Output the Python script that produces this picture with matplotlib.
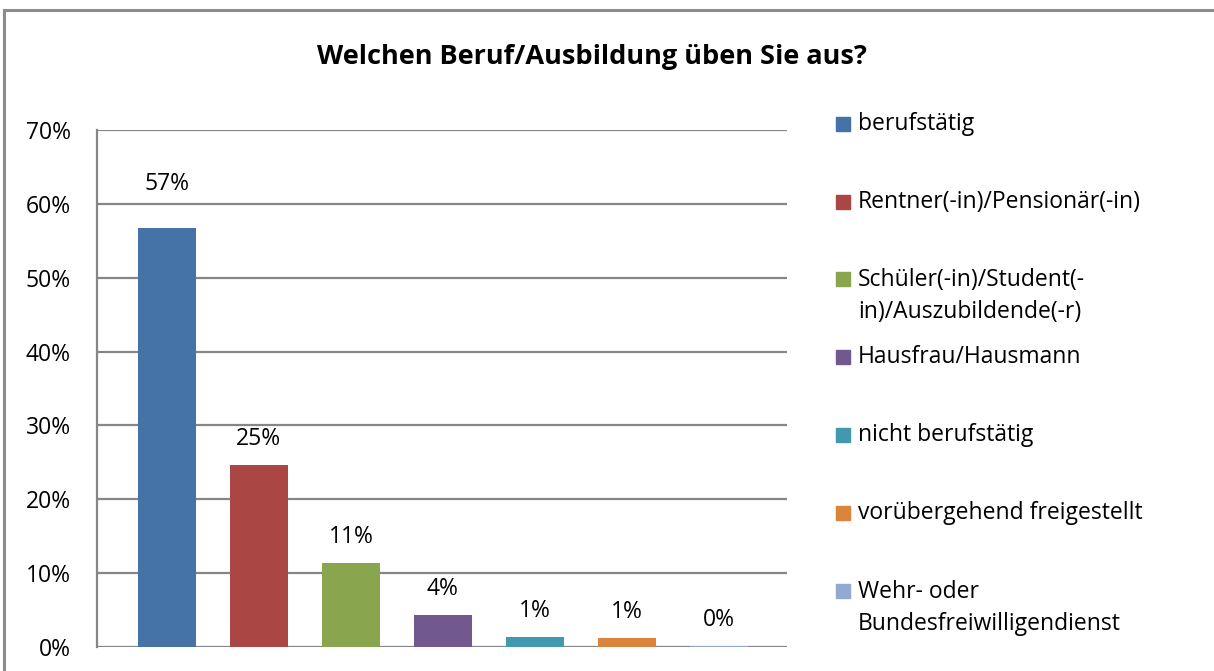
import matplotlib
matplotlib.use("Agg")
import matplotlib.pyplot as plt
from matplotlib.patches import Rectangle
from matplotlib.lines import Line2D

categories = [
    "berufstätig",
    "Rentner(-in)/Pensionär(-in)",
    "Schüler(-in)/Student(-\nin)/Auszubildende(-r)",
    "Hausfrau/Hausmann",
    "nicht berufstätig",
    "vorübergehend freigestellt",
    "Wehr- oder\nBundesfreiwilligendienst",
]
values = [56.7, 24.7, 11.4, 4.3, 1.4, 1.2, 0.2]
value_labels = ["57%", "25%", "11%", "4%", "1%", "1%", "0%"]
yticks = [0, 10, 20, 30, 40, 50, 60, 70]
ytick_labels = ["0%", "10%", "20%", "30%", "40%", "50%", "60%", "70%"]
title = "Welchen Beruf/Ausbildung üben Sie aus?"

colors = ["#4572A7", "#AA4643", "#89A54E", "#71588F", "#4198AF", "#DB843D", "#93A9CF"]
FONT = ["Open Sans", "DejaVu Sans"]
plt.rcParams["font.family"] = FONT
FS = 16.5

W, H = 1214, 671
fig = plt.figure(figsize=(W / 100, H / 100), dpi=100)
fig.patch.set_facecolor("white")

# outer frame (top and left visible)
fig.add_artist(Line2D([4 / W, 1], [1 - 10 / H, 1 - 10 / H], color="#8C8C8C", lw=2.2))
fig.add_artist(Line2D([4 / W, 4 / W], [0, 1 - 10 / H], color="#8C8C8C", lw=2.2))

left, right = 97 / W, 787 / W
top, bottom = 1 - 130 / H, 1 - 647 / H
ax = fig.add_axes([left, bottom, right - left, top - bottom])

x = list(range(len(values)))
ax.bar(x, values, width=0.63, color=colors, zorder=3)
ax.set_xlim(-0.76, 6.74)
ax.set_ylim(0, 70)
ax.set_yticks(yticks)
ax.set_yticklabels(ytick_labels, fontsize=FS, color="#000000")
ax.tick_params(axis="y", length=0, pad=19)
ax.set_xticks([])
ax.yaxis.grid(True, color="#868686", lw=1.6, zorder=0)
for s in ["top", "right", "bottom"]:
    ax.spines[s].set_visible(False)
ax.spines["left"].set_color("#868686")
ax.spines["left"].set_linewidth(1.6)

offsets = [44, 26, 26, 26, 26, 26, 26]
for xi, v, lab, off in zip(x, values, value_labels, offsets):
    ax.annotate(lab, (xi, v), xytext=(0, off * 0.72), textcoords="offset points",
                ha="center", va="center", fontsize=FS)

fig.text(592 / W, 1 - 57 / H, title, ha="center", va="center",
         fontsize=19.5, fontweight="bold")

# legend
leg_y = [124, 202, 279, 357, 435, 513, 591]
for cat, col, yy in zip(categories, colors, leg_y):
    fig.add_artist(Rectangle((836 / W, 1 - (yy + 7) / H), 14 / W, 14 / H,
                             transform=fig.transFigure, color=col))
    yc = yy + 17 if "\n" in cat else yy
    fig.text(858 / W, 1 - yc / H, cat, ha="left", va="center",
             fontsize=FS, linespacing=1.4)

fig.savefig("out.png", dpi=100, facecolor="white")
